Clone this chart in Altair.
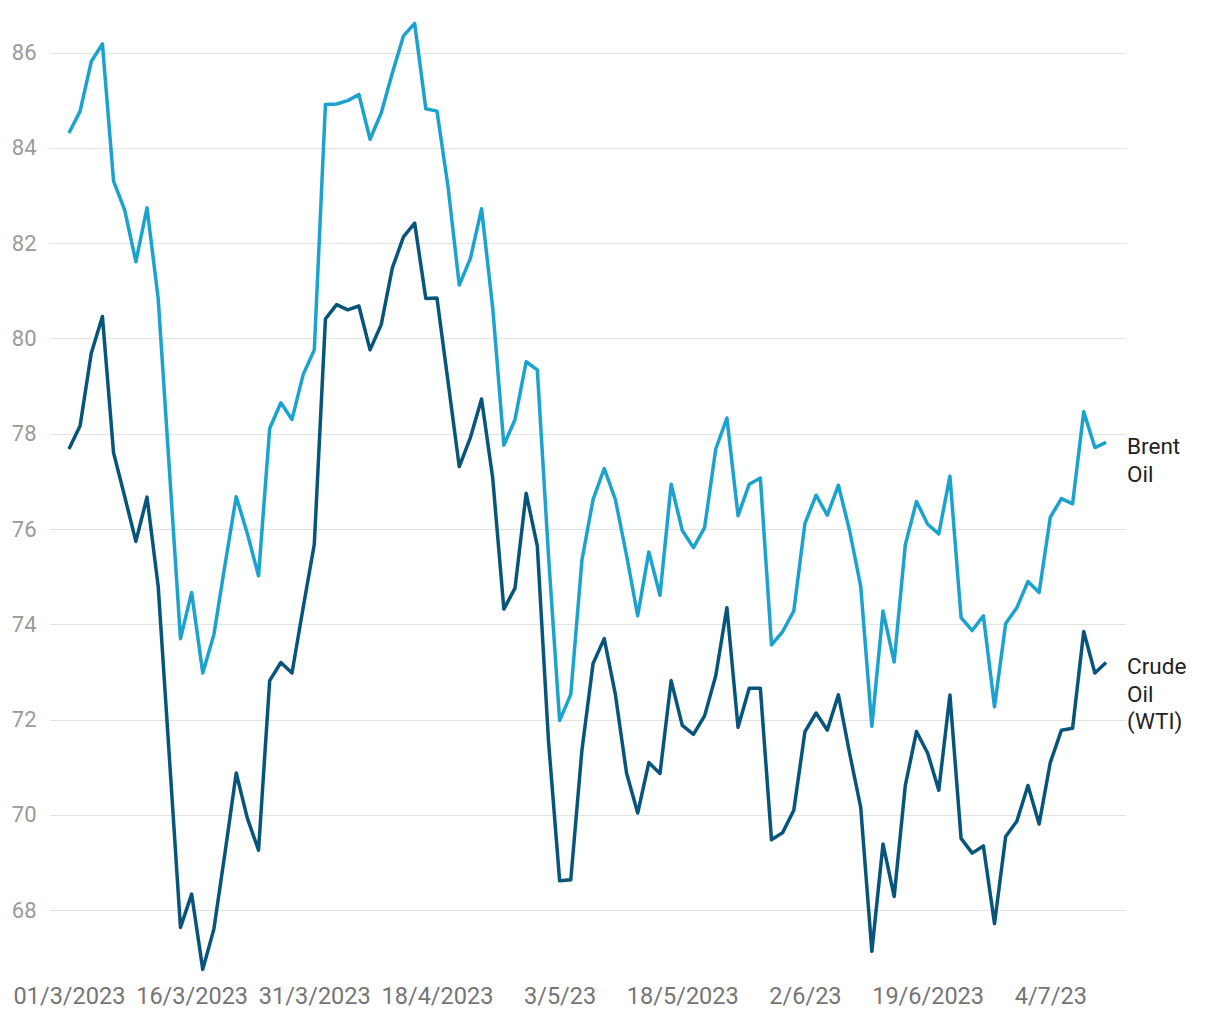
import altair as alt
import pandas as pd

day_index = list(range(94))

brent = [84.31, 84.77, 85.81, 86.18, 83.30, 82.69, 81.61, 82.74, 80.84, 77.27,
         73.70, 74.67, 72.98, 73.79, 75.26, 76.68, 75.90, 75.02, 78.11, 78.65,
         78.30, 79.24, 79.76, 84.91, 84.92, 84.99, 85.12, 84.18, 84.73, 85.57,
         86.35, 86.61, 84.82, 84.77, 83.17, 81.12, 81.68, 82.72, 80.64, 77.76,
         78.30, 79.51, 79.34, 75.45, 71.98, 72.53, 75.35, 76.62, 77.27, 76.62,
         75.45, 74.18, 75.52, 74.61, 76.94, 75.97, 75.61, 76.03, 77.68, 78.33,
         76.28, 76.94, 77.07, 73.57, 73.85, 74.28, 76.12, 76.71, 76.29, 76.92,
         75.97, 74.80, 71.86, 74.28, 73.21, 75.67, 76.58, 76.10, 75.90, 77.11,
         74.14, 73.87, 74.18, 72.27, 74.02, 74.35, 74.90, 74.67, 76.25, 76.64,
         76.53, 78.46, 77.71, 77.82]

wti = [77.68, 78.17, 79.69, 80.46, 77.60, 76.68, 75.74, 76.67, 74.80, 71.23,
       67.64, 68.34, 66.76, 67.61, 69.22, 70.88, 69.93, 69.26, 72.82, 73.20,
       72.98, 74.35, 75.68, 80.41, 80.71, 80.60, 80.68, 79.76, 80.29, 81.48,
       82.13, 82.42, 80.84, 80.85, 79.08, 77.31, 77.92, 78.73, 77.07, 74.32,
       74.76, 76.75, 75.64, 71.56, 68.62, 68.64, 71.36, 73.18, 73.70, 72.53,
       70.88, 70.04, 71.10, 70.87, 72.82, 71.88, 71.69, 72.08, 72.92, 74.35,
       71.84, 72.66, 72.66, 69.48, 69.63, 70.10, 71.75, 72.14, 71.78, 72.52,
       71.30, 70.16, 67.14, 69.39, 68.29, 70.62, 71.75, 71.30, 70.52, 72.52,
       69.51, 69.20, 69.35, 67.72, 69.55, 69.87, 70.62, 69.81, 71.10, 71.78,
       71.82, 73.85, 72.98, 73.20]

tick_positions = [0, 11, 22, 33, 44, 55, 66, 77, 88]
tick_labels = ["01/3/2023", "16/3/2023", "31/3/2023", "18/4/2023", "3/5/23",
               "18/5/2023", "2/6/23", "19/6/2023", "4/7/23"]

series_names = ["Brent Oil", "Crude Oil (WTI)"]
series_labels = [["Brent", "Oil"], ["Crude", "Oil", "(WTI)"]]
series_colors = ["#1ba2cf", "#07557a"]

rows = []
for i, b, w in zip(day_index, brent, wti):
    rows.append({"idx": i, "series": series_names[0], "value": b})
    rows.append({"idx": i, "series": series_names[1], "value": w})
df = pd.DataFrame(rows)

label_df = pd.DataFrame({
    "idx": [day_index[-1], day_index[-1]],
    "value": [brent[-1], wti[-1]],
    "series": series_names,
    "label": series_labels,
})

label_map = "{" + ",".join(f"'{p}':'{l}'" for p, l in zip(tick_positions, tick_labels)) + "}"

x_scale = alt.Scale(domain=[-1.79, 94.79], nice=False, zero=False)
y_scale = alt.Scale(domain=[66.6, 86.85], nice=False, zero=False)
color_scale = alt.Scale(domain=series_names, range=series_colors)

lines = alt.Chart(df).mark_line(strokeWidth=3.5, strokeJoin="round").encode(
    x=alt.X("idx:Q", scale=x_scale,
            axis=alt.Axis(values=tick_positions, title=None, grid=False, domain=False,
                          ticks=False, labelFontSize=23.5, labelColor="#757575",
                          labelFont="Roboto", labelPadding=7,
                          labelExpr=f"{label_map}[datum.value]",
                          labelOverlap=False, labelFlush=False)),
    y=alt.Y("value:Q", scale=y_scale,
            axis=alt.Axis(values=[68, 70, 72, 74, 76, 78, 80, 82, 84, 86], title=None,
                          grid=True, gridColor="#e3e3e3", gridWidth=1, domain=False,
                          ticks=False, labelFontSize=22, labelColor="#9a9a9a",
                          labelFont="Roboto", labelPadding=13)),
    color=alt.Color("series:N", scale=color_scale, legend=None),
)

texts = alt.Chart(label_df).mark_text(
    align="left", baseline="top", dx=21, dy=-6, fontSize=22.5, font="Roboto",
    color="#222222", lineHeight=27.5
).encode(
    x=alt.X("idx:Q", scale=x_scale),
    y=alt.Y("value:Q", scale=y_scale),
    text="label",
)

chart = alt.layer(lines, texts).properties(
    width=1077, height=965,
    autosize=alt.AutoSizeParams(type="none"),
    padding={"left": 41, "top": 4, "right": 80, "bottom": 34},
).configure_view(stroke=None)

chart.save("out.html", embed_options={"renderer": "svg", "actions": False})
